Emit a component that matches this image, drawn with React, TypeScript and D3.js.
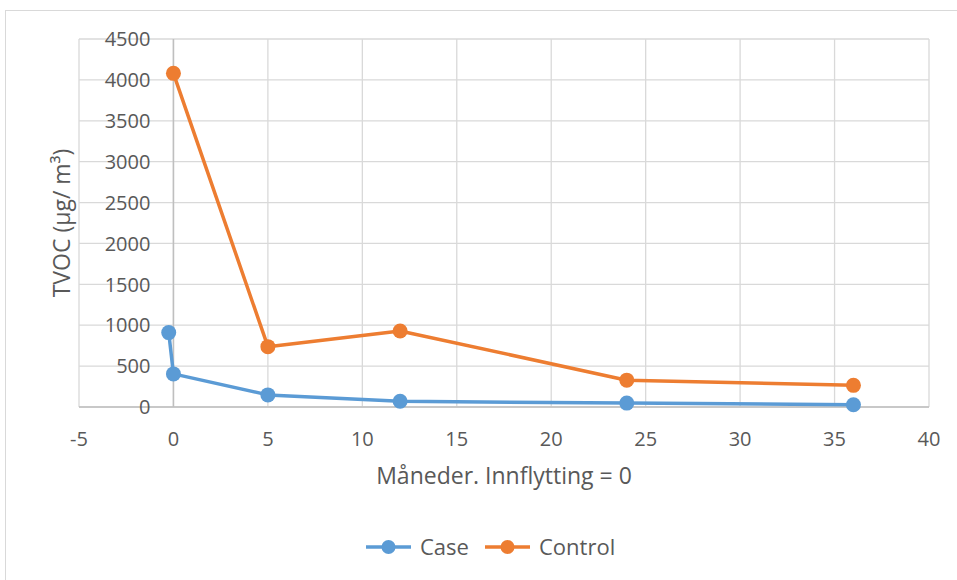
import * as d3 from "d3";

const caseX = [-0.25, 0, 5, 12, 24, 36];
const caseY = [910, 405, 148, 70, 48, 28];
const controlX = [0, 5, 12, 24, 36];
const controlY = [4080, 738, 930, 328, 265];
const xTicks = [-5, 0, 5, 10, 15, 20, 25, 30, 35, 40];
const yTicks = [0, 500, 1000, 1500, 2000, 2500, 3000, 3500, 4000, 4500];
const seriesNames = ["Case", "Control"];

const W = 957;
const H = 580;
const FONT = "'Open Sans', sans-serif";
const TXT = "#595959";
const GRID = "#D9D9D9";
const AXIS = "#BFBFBF";
const BLUE = "#5B9BD5";
const ORANGE = "#ED7D31";

export default function App() {
  const x = d3.scaleLinear().domain([-5, 40]).range([79, 929]);
  const y = d3.scaleLinear().domain([0, 4500]).range([407, 39]);

  const line = d3
    .line<[number, number]>()
    .x((d) => x(d[0]))
    .y((d) => y(d[1]));

  const caseData = caseX.map((v, i) => [v, caseY[i]] as [number, number]);
  const controlData = controlX.map((v, i) => [v, controlY[i]] as [number, number]);
  const series = [
    { name: seriesNames[0], data: caseData, color: BLUE },
    { name: seriesNames[1], data: controlData, color: ORANGE },
  ];

  const legendX = [366, 485];

  return (
    <svg
      width={W}
      height={H}
      style={{ position: "absolute", left: 0, top: 0, background: "#fff" }}
      fontFamily={FONT}
    >
      <rect x={5.5} y={10.5} width={W + 10} height={H + 10} fill="#fff" stroke={GRID} />

      {/* grid */}
      {xTicks.map((t) => (
        <line key={"gx" + t} x1={x(t)} x2={x(t)} y1={y(4500)} y2={y(0)} stroke={GRID} strokeWidth={1.3} />
      ))}
      {yTicks.map((t) => (
        <line key={"gy" + t} x1={x(-5)} x2={x(40)} y1={y(t)} y2={y(t)} stroke={GRID} strokeWidth={1.3} />
      ))}

      {/* axes crossing at 0 */}
      <line x1={x(0)} x2={x(0)} y1={y(4500)} y2={y(0)} stroke={AXIS} strokeWidth={1.5} />
      <line x1={x(-5)} x2={x(40)} y1={y(0)} y2={y(0)} stroke={AXIS} strokeWidth={1.5} />

      {/* tick labels */}
      {yTicks.map((t) => (
        <text key={"ty" + t} x={x(0) - 23} y={y(t)} dy="0.36em" textAnchor="end" fontSize={20} fill={TXT}>
          {t}
        </text>
      ))}
      {xTicks.map((t) => (
        <text key={"tx" + t} x={x(t)} y={439} dy="0.36em" textAnchor="middle" fontSize={20} fill={TXT}>
          {t}
        </text>
      ))}

      {/* axis titles */}
      <text x={504} y={476} dy="0.36em" textAnchor="middle" fontSize={23} fill={TXT}>
        Måneder. Innflytting = 0
      </text>
      <text
        transform={`translate(62,223) rotate(-90)`}
        dy="0.36em"
        textAnchor="middle"
        fontSize={23}
        fill={TXT}
      >
        TVOC (µg/ m³)
      </text>

      {/* series */}
      {series.map((s) => (
        <g key={s.name}>
          <path d={line(s.data) ?? ""} fill="none" stroke={s.color} strokeWidth={3.5} strokeLinejoin="round" />
          {s.data.map((d, i) => (
            <circle key={i} cx={x(d[0])} cy={y(d[1])} r={7.5} fill={s.color} />
          ))}
        </g>
      ))}

      {/* legend */}
      {series.map((s, i) => (
        <g key={"lg" + s.name} transform={`translate(${legendX[i]},547)`}>
          <line x1={0} x2={45} y1={0} y2={0} stroke={s.color} strokeWidth={3.5} />
          <circle cx={22.5} cy={0} r={7} fill={s.color} />
          <text x={54} y={0} dy="0.36em" fontSize={22} fill={TXT}>
            {s.name}
          </text>
        </g>
      ))}
    </svg>
  );
}
